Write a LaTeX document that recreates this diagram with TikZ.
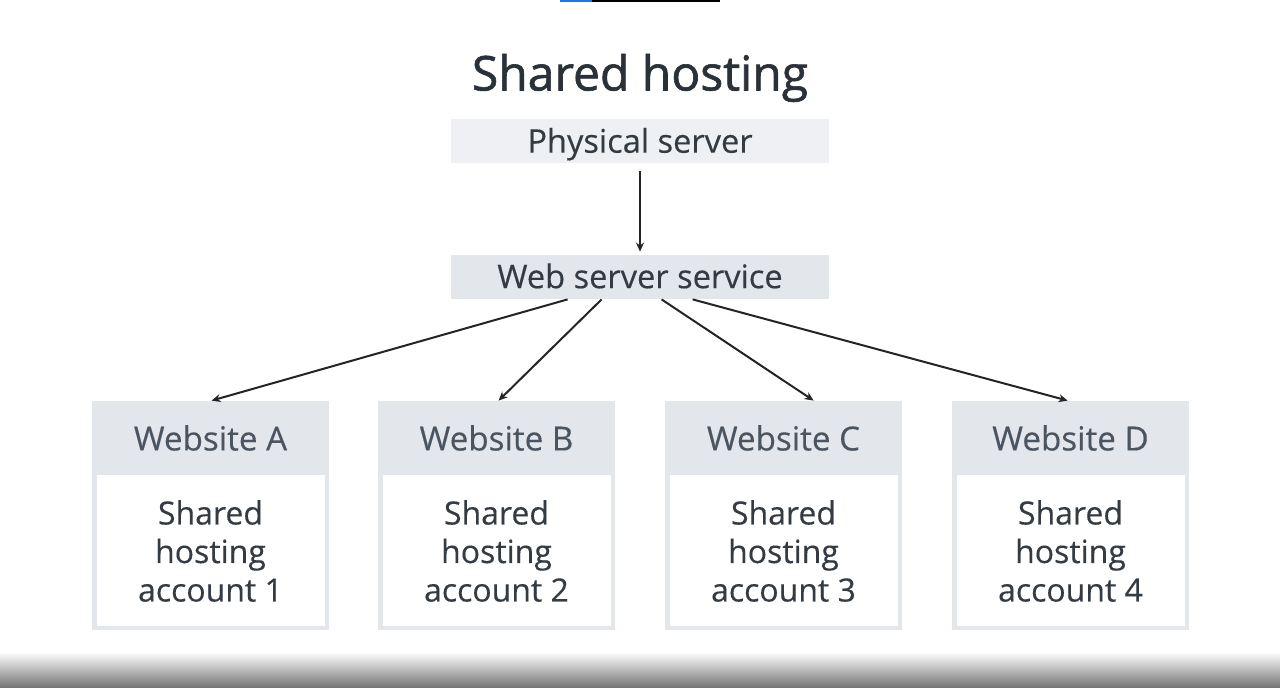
\documentclass[tikz,border=0pt]{standalone}
\usepackage{fontspec}
\setmainfont{Open Sans}
\newfontfamily\titlefont[FakeBold=1.3]{Open Sans}
\newfontfamily\labelfont[FakeBold=0.3]{Open Sans}
\usetikzlibrary{arrows.meta,calc}
\definecolor{titlec}{HTML}{2A3139}
\definecolor{txt}{HTML}{343B43}
\definecolor{hdrtxt}{HTML}{4B5561}
\definecolor{lightbox}{HTML}{EEF0F3}
\definecolor{midbox}{HTML}{E3E6EA}
\definecolor{arrowc}{HTML}{222426}
\definecolor{barblue}{HTML}{1877F2}
\tikzset{
  srvbox/.style={rectangle, inner sep=0pt, minimum width=189pt, minimum height=22pt, text height=14pt, text depth=2.8pt, text=txt, font=\labelfont\fontsize{16.3}{18}\selectfont},
  siteouter/.style={rectangle, inner sep=0pt, fill=midbox, minimum width=118.5pt, minimum height=114.5pt},
  siteinner/.style={rectangle, inner sep=0pt, fill=white, minimum width=114pt, minimum height=75.5pt},
  hdrtext/.style={text=hdrtxt, font=\labelfont\fontsize{16.6}{18}\selectfont, inner sep=0pt},
  bodytext/.style={text=txt, align=center, font=\labelfont\fontsize{16}{19.25}\selectfont, inner sep=0pt},
  conn/.style={draw=arrowc, line width=1pt, -{Stealth[length=4.5pt,width=4pt]}}
}
\begin{document}
\begin{tikzpicture}[x=0.5pt,y=-0.5pt]
\useasboundingbox (0,0) rectangle (1280,688);
\fill[white] (0,0) rectangle (1280,688);
\shade[top color=white, bottom color=white!45!black] (0,652) rectangle (1280,688);
\fill[barblue] (560,0) rectangle (592,2);
\fill[black] (592,0) rectangle (720,2);

\node[text=titlec, font=\titlefont\fontsize{24}{28}\selectfont, inner sep=0pt] (title) at (640,78) {Shared hosting};

\node[srvbox, fill=lightbox] (phys) at (640,141.5) {Physical server};
\node[srvbox, fill=midbox] (web) at (640,277) {Web server service};

\foreach \n/\cx/\lab/\num in {A/210.5/A/1, B/496.5/B/2, C/783.5/C/3, D/1070.5/D/4}{
  \node[siteouter] (site\n) at (\cx,515.5) {};
  \node[siteinner] (body\n) at (\cx,550.5) {};
  \node[hdrtext] (hdr\n) at (\cx,438) {Website \lab};
  \node[bodytext] (txt\n) at (\cx,551) {Shared\\hosting\\account \num};
}

\draw[conn] ($(phys.south)+(0,7)$) -- ($(web.north)+(0,-3)$);
\draw[conn] ($(web.south west)+(117,0)$) -- ($(siteA.north west)+(120,0)$);
\draw[conn] ($(web.south west)+(151,0)$) -- ($(siteB.north west)+(121,0)$);
\draw[conn] ($(web.south west)+(211,0)$) -- ($(siteC.north west)+(149,0)$);
\draw[conn] ($(web.south west)+(242,0)$) -- ($(siteD.north west)+(116,0)$);
\end{tikzpicture}
\end{document}
